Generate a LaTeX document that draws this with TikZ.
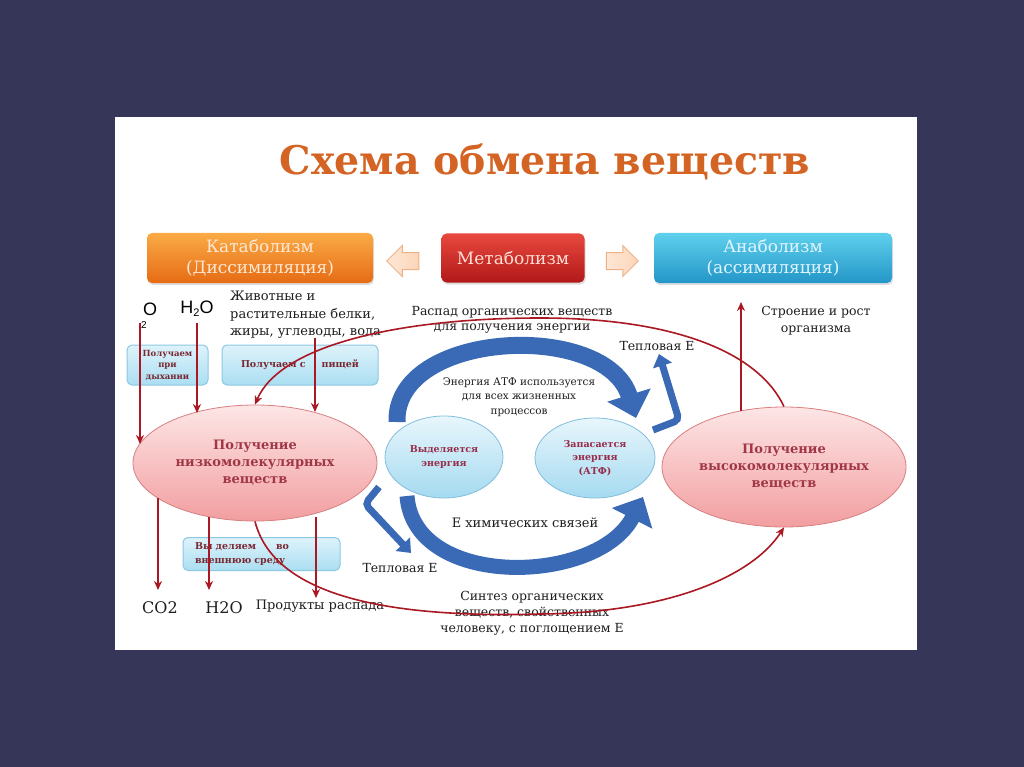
\documentclass[tikz,border=0pt]{standalone}
\usepackage{fontspec}
\setmainfont{DejaVu Serif}
\newfontfamily\sansf{Liberation Sans}
\usetikzlibrary{shapes.geometric,shapes.arrows,arrows.meta,shadings,shadows}
\definecolor{navy}{RGB}{54,54,89}
\definecolor{titleor}{RGB}{212,100,35}
\definecolor{orTop}{RGB}{250,170,70}
\definecolor{orBot}{RGB}{230,108,20}
\definecolor{orText}{RGB}{255,232,210}
\definecolor{rdTop}{RGB}{232,72,62}
\definecolor{rdBot}{RGB}{178,25,25}
\definecolor{rdText}{RGB}{255,225,215}
\definecolor{blTop}{RGB}{95,208,236}
\definecolor{blBot}{RGB}{35,150,200}
\definecolor{blText}{RGB}{225,245,255}
\definecolor{peach}{RGB}{252,214,185}
\definecolor{peachB}{RGB}{238,178,135}
\definecolor{lbTop}{RGB}{222,243,251}
\definecolor{lbBot}{RGB}{170,222,242}
\definecolor{lbBorder}{RGB}{140,200,226}
\definecolor{pkTop}{RGB}{253,230,230}
\definecolor{pkBot}{RGB}{242,158,160}
\definecolor{pkBorder}{RGB}{214,128,130}
\definecolor{pkText}{RGB}{160,55,70}
\definecolor{sbTop}{RGB}{232,246,252}
\definecolor{sbBot}{RGB}{165,218,240}
\definecolor{sbBorder}{RGB}{130,190,220}
\definecolor{sbText}{RGB}{150,45,75}
\definecolor{lbText}{RGB}{120,40,50}
\definecolor{redline}{RGB}{170,25,35}
\definecolor{bluearr}{RGB}{58,106,181}
\definecolor{ink}{RGB}{30,30,30}
\tikzset{
  topbox/.style={rounded corners=5pt, minimum height=50pt, inner sep=0pt, align=center,
    font=\fontsize{17}{21}\selectfont,
    drop shadow={opacity=0.25, shadow xshift=1pt, shadow yshift=-2pt}},
  peacharrow/.style={single arrow, draw=peachB, left color=peach!60, right color=peach, line width=1pt,
    minimum height=32pt, single arrow head extend=7pt, inner sep=8pt},
  lbbox/.style={rounded corners=5pt, draw=lbBorder, line width=1pt, top color=lbTop,
    bottom color=lbBot, text=lbText, inner sep=0pt},
  pinkell/.style={ellipse, draw=pkBorder, line width=0.8pt, top color=pkTop, bottom color=pkBot,
    text=pkText, align=center, inner sep=0pt, font=\bfseries\fontsize{13}{17}\selectfont},
  smallell/.style={ellipse, draw=sbBorder, line width=0.8pt, top color=sbTop, bottom color=sbBot,
    text=sbText, align=center, inner sep=0pt, font=\bfseries\fontsize{9.5}{13.5}\selectfont},
  txt/.style={text=ink, align=center, inner sep=0pt, font=\fontsize{12.5}{15.5}\selectfont},
  redarr/.style={draw=redline, line width=1.6pt, -{Stealth[length=9pt,width=8pt]}},
  bigblue/.style={draw=bluearr, line width=17pt, -{Triangle[length=24pt,width=44pt]}},
  hookblue/.style={draw=bluearr, line width=7pt, rounded corners=5pt, -{Triangle[length=12pt,width=19pt]}}
}
\begin{document}
\begin{tikzpicture}[x=1pt,y=-1pt]
\useasboundingbox (0,0) rectangle (1024,767);
\fill[navy] (0,0) rectangle (1024,767);
\fill[white] (115,117) rectangle (917,650);

% title
\node[text=titleor, font=\bfseries\fontsize{39.5}{44}\selectfont] (title) at (545,162) {Схема обмена веществ};

% top boxes
\node[topbox, top color=orTop, bottom color=orBot, text=orText, minimum width=226pt] (cat) at (260,258) {Катаболизм\\(Диссимиляция)};
\node[topbox, top color=rdTop, bottom color=rdBot, text=rdText, minimum width=143pt, minimum height=49pt] (met) at (513,258) {Метаболизм};
\node[topbox, top color=blTop, bottom color=blBot, text=blText, minimum width=238pt] (ana) at (773,258) {Анаболизм\\(ассимиляция)};
\node[peacharrow, shape border rotate=180] (larr) at (407,261) {};
\node[peacharrow] (rarr) at (618,261) {};

% top-left texts
\node[text=black, inner sep=0pt, font=\sansf\fontsize{18}{20}\selectfont] (oo) at (150,309) {O};
\node[text=black, inner sep=0pt, font=\sansf\fontsize{10}{10}\selectfont] (osub) at (144,325) {2};
\node[text=black, inner sep=0pt, font=\sansf\fontsize{18}{20}\selectfont] (h2o) at (197,309) {H\raisebox{-3pt}{\fontsize{11}{11}\selectfont 2}O};
\node[txt, anchor=west, align=left, font=\fontsize{13}{17.5}\selectfont] (food) at (230,315) {Животные и\\растительные белки,\\жиры, углеводы, вода};

\node[txt] (raspad) at (512,320) {Распад органических веществ\\для получения энергии};
\node[txt] (teplo1) at (657,346) {Тепловая Е};
\node[txt, font=\fontsize{12.5}{17}\selectfont] (stroen) at (816,321) {Строение и рост\\организма};

% light blue boxes
\node[lbbox, minimum width=81pt, minimum height=40pt, align=center, font=\bfseries\fontsize{8.5}{11.5}\selectfont] (box1) at (167.5,365) {Получаем\\при\\дыхании};
\node[lbbox, minimum width=156pt, minimum height=40pt, font=\bfseries\fontsize{9.5}{12}\selectfont] (box2) at (300,365) {Получаем с\hspace{16pt}пищей};
\node[lbbox, minimum width=157pt, minimum height=33pt, text width=133pt, inner xsep=12pt, align=left, font=\bfseries\fontsize{9.5}{13.5}\selectfont] (box3) at (261.5,554) {Вы деляем\hspace{20pt}во\\внешнюю среду};

% blue arcs (behind small ellipses)
\coordinate (bt1) at (397,422);
\coordinate (bt2) at (636,418);
\coordinate (bb1) at (407,496);
\coordinate (bb2) at (643,497);
\draw[bigblue] (bt1) .. controls (394,330) and (606,320) .. (bt2);
\draw[bigblue, line width=15pt] (bb1) .. controls (414,590) and (598,585) .. (bb2);
\coordinate (hk1) at (379,487);
\coordinate (hk2) at (411,553);
\draw[hookblue] (hk1) -- (365,504) -- (hk2);
\coordinate (hk3) at (653,430);
\coordinate (hk4) at (659,354);
\draw[hookblue] (hk3) -- (679,420) -- (hk4);

% ellipses
\node[pinkell, minimum width=244pt, minimum height=116pt] (lowE) at (255,463) {Получение\\низкомолекулярных\\веществ};
\node[pinkell, minimum width=244pt, minimum height=120pt] (highE) at (784,467) {Получение\\высокомолекулярных\\веществ};
\node[smallell, minimum width=118pt, minimum height=82pt] (rel) at (444,457) {Выделяется\\энергия};
\node[smallell, minimum width=120pt, minimum height=80pt] (zap) at (595,458) {Запасается\\энергия\\(АТФ)};

\node[txt, font=\fontsize{10.5}{14.5}\selectfont] (atp) at (519,397) {Энергия АТФ используется\\для всех жизненных\\процессов};
\node[txt, font=\fontsize{13}{16}\selectfont] (chem) at (525,523) {Е химических связей};
\node[txt] (teplo2) at (400,568) {Тепловая Е};
\node[txt, font=\fontsize{12.5}{16}\selectfont] (sintez) at (532,613) {Синтез органических\\веществ, свойственных\\человеку, с поглощением Е};

% bottom labels
\node[txt, font=\fontsize{16}{18}\selectfont] (co2) at (160,608) {CO2};
\node[txt, font=\fontsize{16}{18}\selectfont] (h2ob) at (224,608) {H2O};
\node[txt, font=\fontsize{13}{16}\selectfont] (prod) at (320,606) {Продукты распада};

% red connectors
\coordinate (oS) at (140,323);
\coordinate (oE) at (140,444);
\coordinate (hS) at (197,323);
\coordinate (hE) at (197,413);
\coordinate (fS) at (315,338);
\coordinate (fE) at (315,412);
\draw[redarr] (oS) -- (oE);
\draw[redarr] (hS) -- (hE);
\draw[redarr] (fS) -- (fE);
\coordinate (d1S) at (158,498);
\coordinate (d1E) at (158,590);
\coordinate (d2S) at (209,517);
\coordinate (d2E) at (209,590);
\coordinate (d3S) at (316,517);
\coordinate (d3E) at (316,598);
\draw[redarr] (d1S) -- (d1E);
\draw[redarr] (d2S) -- (d2E);
\draw[redarr] (d3S) -- (d3E);
\coordinate (uS) at (741,411);
\coordinate (uE) at (741,302);
\draw[redarr] (uS) -- (uE);
\coordinate (topmid) at (540,318);
\draw[redarr] (highE.north) .. controls (760,355) and (680,318) .. (topmid)
   .. controls (400,318) and (280,345) .. (lowE.north);
\coordinate (botmid) at (540,614);
\draw[redarr] (lowE.south) .. controls (275,600) and (400,618) .. (botmid)
   .. controls (660,613) and (750,580) .. (highE.south);
\end{tikzpicture}
\end{document}
